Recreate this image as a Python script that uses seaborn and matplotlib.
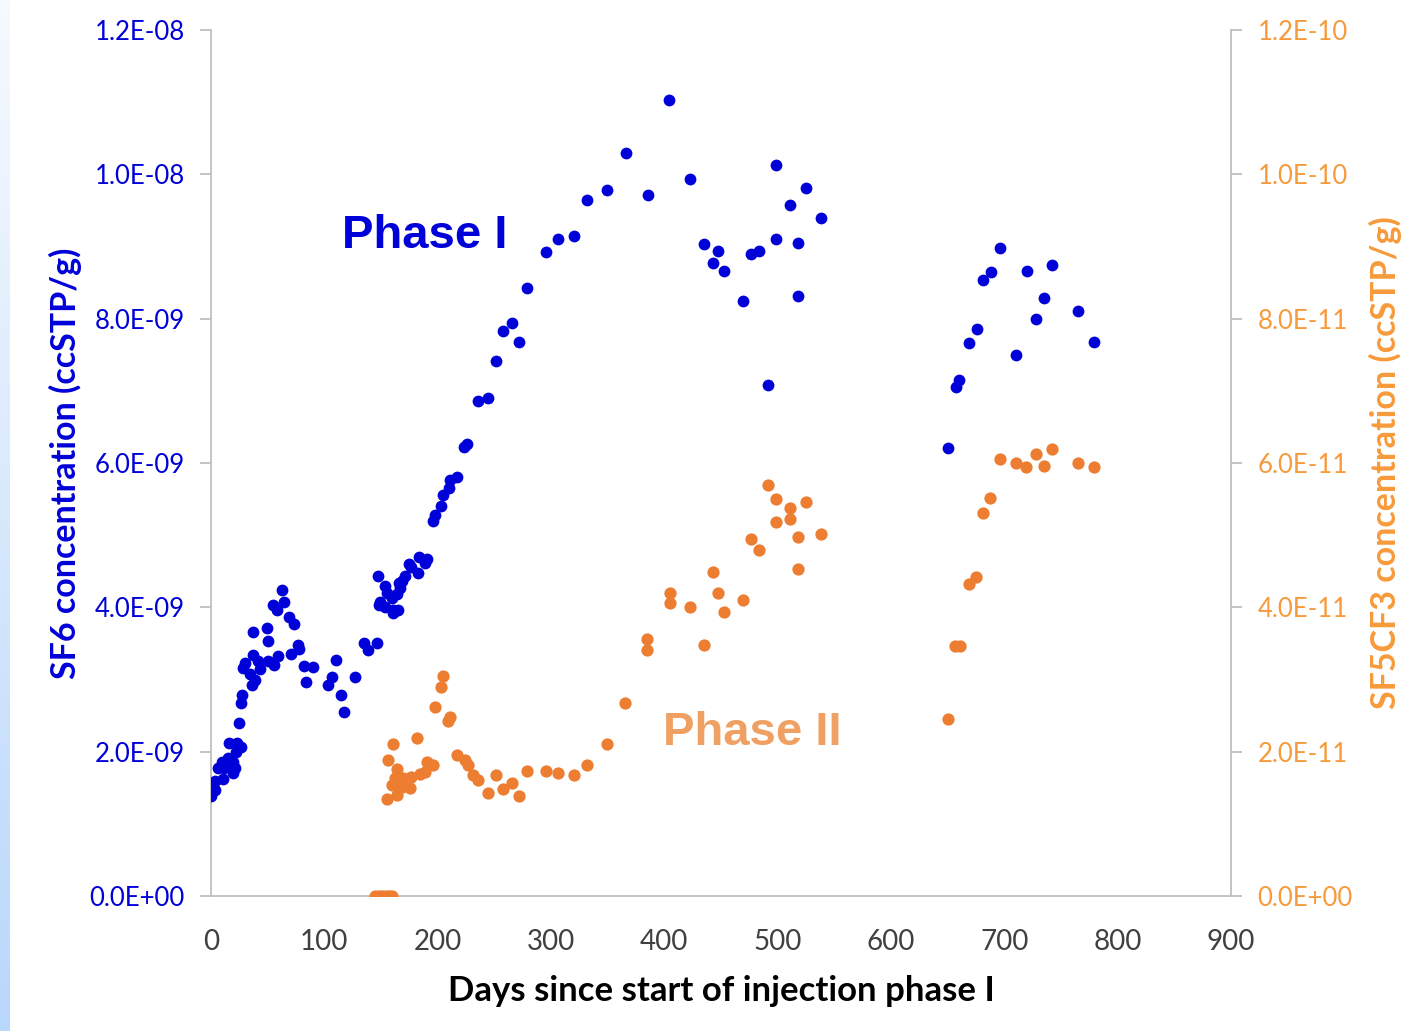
import numpy as np
import pandas as pd
import matplotlib
matplotlib.use("Agg")
import matplotlib.pyplot as plt
import seaborn as sns
from matplotlib.ticker import FuncFormatter, FixedLocator

# --- data ---
# SF6 (left axis), values in units of 1E-09 ccSTP/g
sf6_days = [0.3, 0.6, 0.5, 3.5, 3.5, 6.4, 9.4, 10.9, 11.5, 15.3, 15.9, 19.7, 19.7, 21.2, 22.1,
            23.2, 24.7, 26.2, 26.5, 27.6, 28.5, 30.0, 34.4, 35.9, 37.3, 37.3, 38.8, 41.7, 43.2,
            49.1, 50.6, 50.6, 55.0, 55.6, 58.0, 59.4, 62.4, 64.7, 68.8, 70.3, 73.2, 77.0, 77.6,
            82.3, 83.8, 90.3, 103.5, 106.5, 110.3, 114.7, 117.4, 127.0,
            135.0, 138.8, 146.2, 147.6, 149.1, 148.5, 153.5, 153.5, 155.0, 159.4, 160.3, 160.9,
            163.9, 165.3, 166.1, 166.8, 168.3, 171.2, 175.0, 176.2, 182.4, 183.5, 188.8, 190.3,
            195.6, 197.6, 202.7, 204.4, 210.0, 210.9, 216.8, 223.5, 225.6, 235.9, 244.7, 251.2,
            257.9, 265.3, 272.0, 279.1, 295.6, 306.4, 320.3, 331.5, 349.1, 365.9, 385.3, 404.4,
            422.6, 435.0, 443.2, 447.4, 452.9, 469.4, 476.2, 483.5, 491.7, 498.5, 498.5, 510.9,
            517.6, 517.6, 524.7, 538.5,
            650.6, 657.4, 660.3, 668.6, 675.6, 681.0, 688.2, 696.2, 710.0, 719.7, 727.9, 735.0,
            741.8, 765.3, 778.9]
sf6_vals = [1.39, 1.45, 1.56, 1.47, 1.60, 1.77, 1.86, 1.62, 1.77, 1.91, 2.12, 1.85, 1.70, 1.77, 1.99,
            2.12, 2.40, 2.68, 2.06, 2.78, 3.16, 3.23, 3.08, 2.92, 3.66, 3.34, 3.00, 3.26, 3.14,
            3.71, 3.54, 3.26, 4.03, 3.20, 3.96, 3.32, 4.24, 4.08, 3.86, 3.36, 3.77, 3.48, 3.42,
            3.19, 2.97, 3.17, 2.92, 3.03, 3.27, 2.79, 2.55, 3.03,
            3.50, 3.41, 3.51, 4.43, 4.08, 4.03, 4.30, 4.01, 4.20, 4.13, 3.92, 3.96,
            4.19, 3.96, 4.34, 4.27, 4.36, 4.44, 4.60, 4.56, 4.48, 4.70, 4.61, 4.67,
            5.20, 5.28, 5.41, 5.55, 5.66, 5.77, 5.81, 6.22, 6.26, 6.86, 6.90, 7.42,
            7.83, 7.94, 7.68, 8.42, 8.92, 9.10, 9.15, 9.65, 9.78, 10.30, 9.72, 11.03,
            9.94, 9.03, 8.77, 8.94, 8.66, 8.25, 8.90, 8.94, 7.08, 10.13, 9.11, 9.57,
            9.05, 8.31, 9.81, 9.40,
            6.21, 7.06, 7.15, 7.66, 7.86, 8.53, 8.64, 8.98, 7.49, 8.66, 7.99, 8.29,
            8.75, 8.10, 7.68]

# SF5CF3 (right axis), values in units of 1E-11 ccSTP/g
sf5_days = [145, 148, 151, 154, 157, 160,
            155.0, 155.9, 159.4, 160.3, 162.4, 163.9, 164.4, 165.3, 168.3, 169.7, 175.6, 176.2,
            182.0, 184.4, 188.8, 190.3, 196.2, 197.6, 202.9, 204.4, 209.4, 210.9, 216.8, 224.1,
            227.0, 230.9, 235.9, 244.7, 251.5, 257.9, 265.3, 271.8, 279.1, 295.6, 306.4, 320.3,
            331.5, 349.7, 365.3, 385.0, 385.0, 404.7, 404.7, 422.6, 435.0, 443.2, 447.4, 452.9,
            469.7, 476.5, 483.5, 491.7, 498.5, 498.5, 510.9, 510.9, 517.9, 517.9, 524.7, 538.5,
            650.6, 656.5, 660.9, 668.6, 675.3, 680.9, 687.6, 696.2, 710.0, 719.4, 727.7, 734.7,
            741.8, 765.0, 778.9]
sf5_vals = [0, 0, 0, 0, 0, 0,
            1.34, 1.88, 1.54, 2.10, 1.63, 1.76, 1.40, 1.58, 1.51, 1.63, 1.49, 1.65,
            2.19, 1.69, 1.72, 1.85, 1.82, 2.62, 2.90, 3.05, 2.42, 2.48, 1.95, 1.88,
            1.82, 1.68, 1.61, 1.43, 1.67, 1.48, 1.56, 1.39, 1.73, 1.73, 1.71, 1.67,
            1.82, 2.10, 2.67, 3.56, 3.41, 4.20, 4.06, 4.01, 3.48, 4.49, 4.20, 3.93,
            4.10, 4.94, 4.79, 5.70, 5.50, 5.18, 5.37, 5.22, 4.98, 4.53, 5.46, 5.01,
            2.45, 3.47, 3.47, 4.32, 4.42, 5.31, 5.51, 6.05, 6.00, 5.94, 6.13, 5.96,
            6.20, 6.00, 5.94]

# axis ticks
x_ticks = [0, 100, 200, 300, 400, 500, 600, 700, 800, 900]
sf6_ticks = [0, 2e-9, 4e-9, 6e-9, 8e-9, 1e-8, 1.2e-8]
sf5_ticks = [0, 2e-11, 4e-11, 6e-11, 8e-11, 1e-10, 1.2e-10]

df_sf6 = pd.DataFrame({"days": sf6_days, "conc": np.array(sf6_vals) * 1e-9})
df_sf5 = pd.DataFrame({"days": sf5_days, "conc": np.array(sf5_vals) * 1e-11})

# --- styling ---
blue = "#0000D8"
orange = "#ED7D31"
orange_text = "#F79A3B"
grey = "#BFBFBF"

sns.set_style("white")
plt.rcParams["font.family"] = ["Lato", "DejaVu Sans"]

fig = plt.figure(figsize=(14.22, 10.31), dpi=100)
ax = fig.add_axes([211 / 1422, 1 - 896 / 1031, 1020 / 1422, 866 / 1031])

# light blue gradient strip at the left edge (drawn in pixels)
top_c = np.array(matplotlib.colors.to_rgb("#F7FAFF"))
bot_c = np.array(matplotlib.colors.to_rgb("#B9D7FB"))
t = np.linspace(0, 1, 1031).reshape(-1, 1, 1)
grad = np.repeat(top_c * (1 - t) + bot_c * t, 10, axis=1)
fig.figimage(grad, xo=0, yo=0, origin="upper", zorder=0)

sns.scatterplot(data=df_sf6, x="days", y="conc", ax=ax, color=blue, s=72,
                linewidth=0, zorder=3, legend=False)
ax2 = ax.twinx()
sns.scatterplot(data=df_sf5, x="days", y="conc", ax=ax2, color=orange, s=78,
                linewidth=0, zorder=3, legend=False)

ax.set_xlim(0, 900)
ax.set_ylim(0, 1.2e-8)
ax2.set_ylim(0, 1.2e-10)
ax.xaxis.set_major_locator(FixedLocator(x_ticks))
ax.yaxis.set_major_locator(FixedLocator(sf6_ticks))
ax2.yaxis.set_major_locator(FixedLocator(sf5_ticks))

sci = FuncFormatter(lambda v, p: "{:.1E}".format(v))
ax.yaxis.set_major_formatter(sci)
ax2.yaxis.set_major_formatter(sci)

for a in (ax, ax2):
    for side in a.spines:
        a.spines[side].set_color(grey)
        a.spines[side].set_linewidth(1.3)
    a.spines["top"].set_visible(False)
ax.spines["right"].set_visible(False)
ax2.spines["left"].set_visible(False)
ax2.spines["bottom"].set_visible(False)

ax.tick_params(axis="x", length=6, width=1.3, color=grey, labelsize=20, labelcolor="#404040", pad=18)
ax.tick_params(axis="y", length=8, width=1.3, color=grey, labelsize=18.5, labelcolor=blue, pad=11)
ax2.tick_params(axis="y", length=8, width=1.3, color=grey, labelsize=18.5, labelcolor=orange_text, pad=11)

ax.set_xlabel("Days since start of injection phase I", fontsize=25, fontweight="bold",
              color="black", labelpad=14)
ax.set_ylabel("SF6 concentration (ccSTP/g)", fontsize=24.5, fontweight="bold", color=blue, labelpad=5)
ax2.set_ylabel("SF5CF3 concentration (ccSTP/g)", fontsize=24.5, fontweight="bold",
               color=orange_text, labelpad=12)

ax.text(189, 9.14e-9, "Phase I", fontsize=34, fontweight="bold", color=blue,
        ha="center", va="center", family=["Liberation Sans", "DejaVu Sans"])
ax.text(478, 2.26e-9, "Phase II", fontsize=34, fontweight="bold", color="#F0A062",
        ha="center", va="center", family=["Liberation Sans", "DejaVu Sans"])

fig.savefig("out.png", dpi=100)
